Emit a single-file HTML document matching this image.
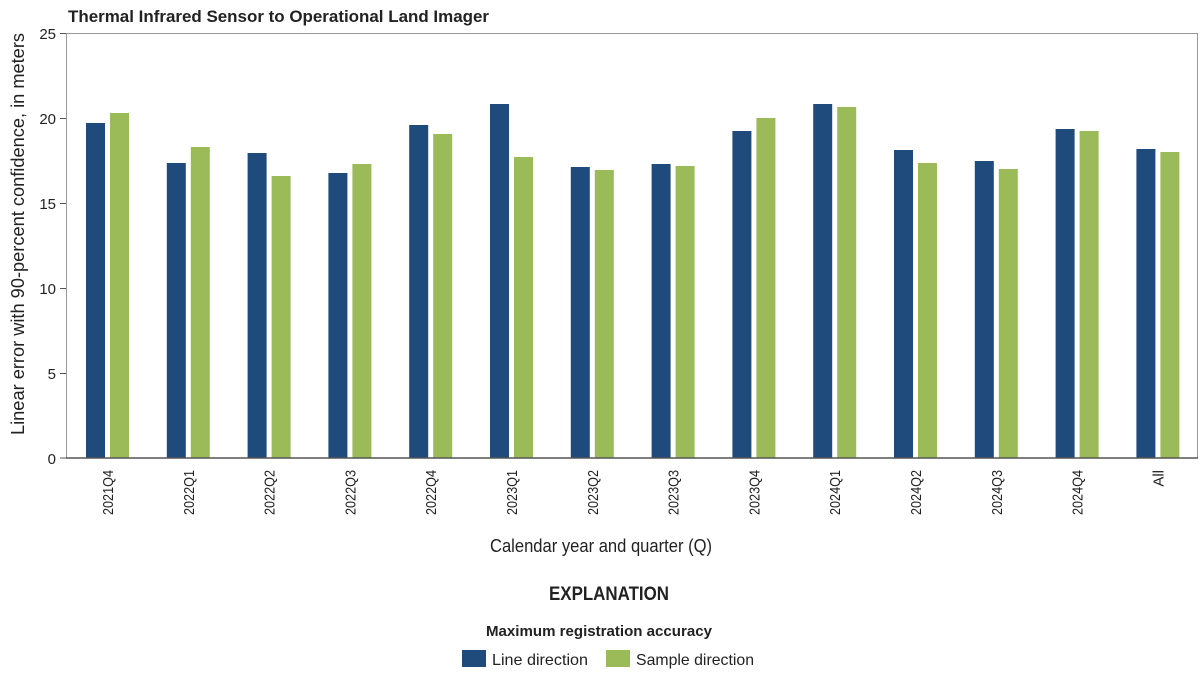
<!DOCTYPE html>
<html><head><meta charset="utf-8"><style>
body{margin:0;background:#fff;}
svg text{font-family:"Liberation Sans Narrow","Liberation Sans",sans-serif;fill:#222;}
</style></head><body>
<svg width="1202" height="673" viewBox="0 0 1202 673" xmlns="http://www.w3.org/2000/svg">
<text x="68" y="22" font-size="17" font-weight="bold" textLength="421" lengthAdjust="spacingAndGlyphs">Thermal Infrared Sensor to Operational Land Imager</text>
<rect x="66.5" y="33.5" width="1131" height="424.5" fill="none" stroke="#999" stroke-width="1"/>
<g stroke="#555" stroke-width="1">
<line x1="60" y1="33.5" x2="66" y2="33.5"/><line x1="60" y1="118.5" x2="66" y2="118.5"/><line x1="60" y1="203.5" x2="66" y2="203.5"/><line x1="60" y1="288.5" x2="66" y2="288.5"/><line x1="60" y1="373.5" x2="66" y2="373.5"/><line x1="60" y1="458" x2="66" y2="458"/>
</g>
<g font-size="15" text-anchor="end">
<text x="56" y="39">25</text><text x="56" y="124">20</text><text x="56" y="209">15</text><text x="56" y="294">10</text><text x="56" y="379">5</text><text x="56" y="464">0</text>
</g>
<text transform="translate(24,234) rotate(-90)" font-size="18" text-anchor="middle" textLength="402" lengthAdjust="spacingAndGlyphs">Linear error with 90-percent confidence, in meters</text>
<g fill="#1f4a7c">
<rect x="86" y="123" width="19" height="335"/>
<rect x="166.8" y="163" width="19" height="295"/>
<rect x="247.6" y="153" width="19" height="305"/>
<rect x="328.4" y="173" width="19" height="285"/>
<rect x="409.2" y="125" width="19" height="333"/>
<rect x="490" y="104" width="19" height="354"/>
<rect x="570.8" y="167" width="19" height="291"/>
<rect x="651.6" y="164" width="19" height="294"/>
<rect x="732.4" y="131" width="19" height="327"/>
<rect x="813.2" y="104" width="19" height="354"/>
<rect x="894" y="150" width="19" height="308"/>
<rect x="974.8" y="161" width="19" height="297"/>
<rect x="1055.6" y="129" width="19" height="329"/>
<rect x="1136.4" y="149" width="19" height="309"/>
</g>
<g fill="#9bbb59">
<rect x="110" y="113" width="19" height="345"/>
<rect x="190.8" y="147" width="19" height="311"/>
<rect x="271.6" y="176" width="19" height="282"/>
<rect x="352.4" y="164" width="19" height="294"/>
<rect x="433.2" y="134" width="19" height="324"/>
<rect x="514" y="157" width="19" height="301"/>
<rect x="594.8" y="170" width="19" height="288"/>
<rect x="675.6" y="166" width="19" height="292"/>
<rect x="756.4" y="118" width="19" height="340"/>
<rect x="837.2" y="107" width="19" height="351"/>
<rect x="918" y="163" width="19" height="295"/>
<rect x="998.8" y="169" width="19" height="289"/>
<rect x="1079.6" y="131" width="19" height="327"/>
<rect x="1160.4" y="152" width="19" height="306"/>
</g>
<line x1="66" y1="458" x2="1198" y2="458" stroke="#555" stroke-width="1.5"/>
<g font-size="15" text-anchor="end">
<text transform="translate(113,470) rotate(-90)" textLength="45" lengthAdjust="spacingAndGlyphs">2021Q4</text>
<text transform="translate(193.8,470) rotate(-90)" textLength="45" lengthAdjust="spacingAndGlyphs">2022Q1</text>
<text transform="translate(274.6,470) rotate(-90)" textLength="45" lengthAdjust="spacingAndGlyphs">2022Q2</text>
<text transform="translate(355.4,470) rotate(-90)" textLength="45" lengthAdjust="spacingAndGlyphs">2022Q3</text>
<text transform="translate(436.2,470) rotate(-90)" textLength="45" lengthAdjust="spacingAndGlyphs">2022Q4</text>
<text transform="translate(517,470) rotate(-90)" textLength="45" lengthAdjust="spacingAndGlyphs">2023Q1</text>
<text transform="translate(597.8,470) rotate(-90)" textLength="45" lengthAdjust="spacingAndGlyphs">2023Q2</text>
<text transform="translate(678.6,470) rotate(-90)" textLength="45" lengthAdjust="spacingAndGlyphs">2023Q3</text>
<text transform="translate(759.4,470) rotate(-90)" textLength="45" lengthAdjust="spacingAndGlyphs">2023Q4</text>
<text transform="translate(840.2,470) rotate(-90)" textLength="45" lengthAdjust="spacingAndGlyphs">2024Q1</text>
<text transform="translate(921,470) rotate(-90)" textLength="45" lengthAdjust="spacingAndGlyphs">2024Q2</text>
<text transform="translate(1001.8,470) rotate(-90)" textLength="45" lengthAdjust="spacingAndGlyphs">2024Q3</text>
<text transform="translate(1082.6,470) rotate(-90)" textLength="45" lengthAdjust="spacingAndGlyphs">2024Q4</text>
<text transform="translate(1163.4,470) rotate(-90)">All</text>
</g>
<text x="601" y="552" font-size="18" text-anchor="middle" textLength="222" lengthAdjust="spacingAndGlyphs">Calendar year and quarter (Q)</text>
<text x="609" y="600" font-size="19" font-weight="bold" text-anchor="middle" textLength="120" lengthAdjust="spacingAndGlyphs">EXPLANATION</text>
<text x="599" y="636" font-size="15" font-weight="bold" text-anchor="middle" textLength="226" lengthAdjust="spacingAndGlyphs">Maximum registration accuracy</text>
<rect x="462" y="650" width="24" height="17" fill="#1f4a7c"/>
<text x="492" y="665" font-size="16" textLength="96" lengthAdjust="spacingAndGlyphs">Line direction</text>
<rect x="606" y="650" width="24" height="17" fill="#9bbb59"/>
<text x="636" y="665" font-size="16" textLength="118" lengthAdjust="spacingAndGlyphs">Sample direction</text>
</svg>
</body></html>
